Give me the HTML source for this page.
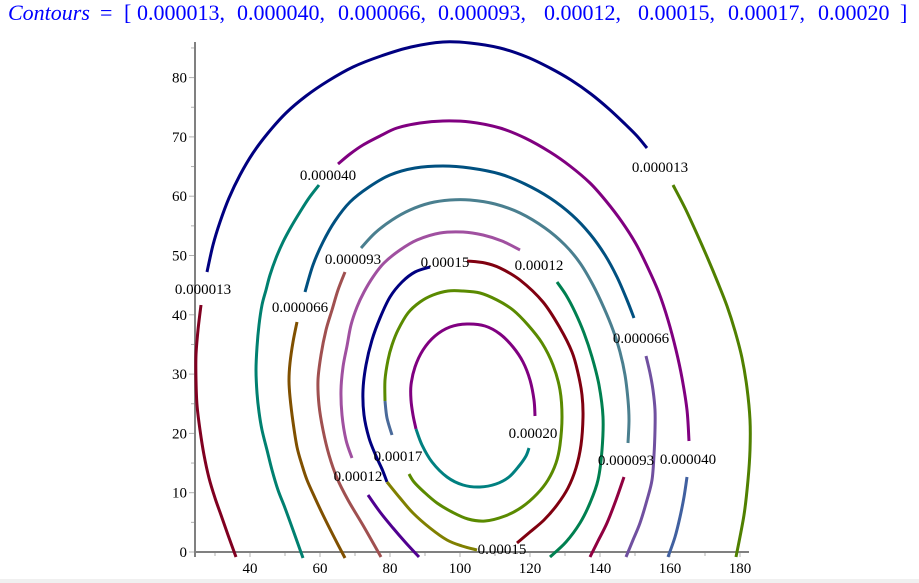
<!DOCTYPE html>
<html><head><meta charset="utf-8"><style>
html,body{margin:0;padding:0;background:#fff;}
svg{display:block;}
polyline,path.c{fill:none;stroke-width:3;stroke-linejoin:round;}
</style></head><body>
<svg id="s" width="919" height="583" viewBox="0 0 919 583" xmlns="http://www.w3.org/2000/svg">
<rect x="0" y="0" width="919" height="583" fill="#fff"/>
<rect x="0" y="579" width="919" height="4" fill="#f0f0f0"/>
<!-- title -->
<g font-family="'Liberation Serif','Times New Roman',serif" font-size="22" fill="#0000ff">
<text x="8" y="20" font-style="italic">Contours</text>
<text x="100" y="20">=</text>
<text x="124" y="20">[</text>
<text x="137" y="20">0.000013,</text>
<text x="237" y="20">0.000040,</text>
<text x="338" y="20">0.000066,</text>
<text x="438" y="20">0.000093,</text>
<text x="544" y="20">0.00012,</text>
<text x="638" y="20">0.00015,</text>
<text x="728" y="20">0.00017,</text>
<text x="818" y="20">0.00020</text>
<text x="900" y="20">]</text>
</g>

<!-- ticks -->
<g stroke="#b0b0b0" stroke-width="1">
<line x1="189" y1="552" x2="195" y2="552"/><line x1="189" y1="492.7" x2="195" y2="492.7"/><line x1="189" y1="433.4" x2="195" y2="433.4"/><line x1="189" y1="374.1" x2="195" y2="374.1"/><line x1="189" y1="314.8" x2="195" y2="314.8"/><line x1="189" y1="255.5" x2="195" y2="255.5"/><line x1="189" y1="196.2" x2="195" y2="196.2"/><line x1="189" y1="136.9" x2="195" y2="136.9"/><line x1="189" y1="77.6" x2="195" y2="77.6"/>
<line x1="191" y1="522.35" x2="195" y2="522.35"/><line x1="191" y1="463.05" x2="195" y2="463.05"/><line x1="191" y1="403.75" x2="195" y2="403.75"/><line x1="191" y1="344.45" x2="195" y2="344.45"/><line x1="191" y1="285.15" x2="195" y2="285.15"/><line x1="191" y1="225.85" x2="195" y2="225.85"/><line x1="191" y1="166.55" x2="195" y2="166.55"/><line x1="191" y1="107.25" x2="195" y2="107.25"/><line x1="191" y1="47.95" x2="195" y2="47.95"/>
<line x1="215" y1="552" x2="215" y2="556"/><line x1="250" y1="552" x2="250" y2="557"/><line x1="285" y1="552" x2="285" y2="556"/><line x1="320" y1="552" x2="320" y2="557"/><line x1="355" y1="552" x2="355" y2="556"/><line x1="390" y1="552" x2="390" y2="557"/><line x1="425" y1="552" x2="425" y2="556"/><line x1="460" y1="552" x2="460" y2="557"/><line x1="495" y1="552" x2="495" y2="556"/><line x1="530" y1="552" x2="530" y2="557"/><line x1="565" y1="552" x2="565" y2="556"/><line x1="600" y1="552" x2="600" y2="557"/><line x1="635" y1="552" x2="635" y2="556"/><line x1="670" y1="552" x2="670" y2="557"/><line x1="705" y1="552" x2="705" y2="556"/><line x1="740" y1="552" x2="740" y2="557"/>
</g>
<!-- axes -->
<line x1="195" y1="42" x2="195" y2="557" stroke="#808080" stroke-width="2"/>
<line x1="194" y1="552" x2="749" y2="552" stroke="#808080" stroke-width="2"/>
<!-- tick labels -->
<g font-family="'Liberation Serif','Times New Roman',serif" font-size="15" fill="#000" text-anchor="end">
<text x="187" y="557">0</text><text x="187" y="497.7">10</text><text x="187" y="438.4">20</text><text x="187" y="379.1">30</text><text x="187" y="319.8">40</text><text x="187" y="260.5">50</text><text x="187" y="201.2">60</text><text x="187" y="141.9">70</text><text x="187" y="82.6">80</text>
</g>
<g font-family="'Liberation Serif','Times New Roman',serif" font-size="15" fill="#000" text-anchor="middle">
<text x="250" y="573">40</text><text x="320" y="573">60</text><text x="390" y="573">80</text><text x="460" y="573">100</text><text x="530" y="573">120</text><text x="600" y="573">140</text><text x="670" y="573">160</text><text x="740" y="573">180</text>
</g>

<!-- contours -->
<g id="cont">
<polyline stroke="#800020" points="201,305 198,330 196,355 196,380 197,405 200,430 204,455 209,478 215,498 221,515 228,535 236,557"/>
<polyline stroke="#000080" points="207,272 213,245 220,222 229,198 240,175 253,153 268,133 286,113 306,96 328,81 353,67 381,56 411,47 443,42 470,43 500,48 527,57 550,68 571,80 591,94 609,109 625,124 637,136 647,148"/>
<polyline stroke="#508000" points="673,185 685,208 697,234 708,259 718,283 727,306 735,331 742,358 747,388 750,420 750,450 748,480 744,515 736,557"/>

<polyline stroke="#008070" points="319,185 309,198 300,212 291,227 283,242 276,258 270,275 266,290 262,305 259,325 257,347 256,370 257,393 259,412 262,430 267,450 272,470 278,490 285,508 293,530 303,558"/>
<polyline stroke="#800080" points="338,164 350,154 363,145 380,136 397,128 420,123 443,121 470,122 500,128 525,138 550,152 570,166 590,183 606,201 622,222 636,244 648,268 659,293 668,320 676,350 682,378 687,410 689,441"/>
<polyline stroke="#4060a0" points="687,477 684,497 680,517 675,537 668,557"/>

<polyline stroke="#005080" points="305,292 313,265 323,242 335,221 350,202 369,187 390,175 415,168 443,166 470,168 500,174 525,184 550,198 572,215 590,234 605,255 617,277 627,300 634,318"/>
<polyline stroke="#805000" points="297,322 293,342 290,363 289,380 290,397 293,422 297,447 302,465 307,480 315,498 323,515 333,535 345,558"/>
<polyline stroke="#7050a0" points="646,356 650,373 653,390 655,410 655,430 654,455 652,480 647,500 640,523 633,540 626,557"/>

<polyline stroke="#4a7f8f" points="361,248 375,233 392,220 410,210 430,203 450,200 470,200 495,204 520,213 545,228 565,245 580,263 593,285 604,308 613,330 620,352 625,375 628,400 629,420 628,443"/>
<polyline stroke="#a05050" points="345,272 338,290 332,310 326,330 321,355 318,380 319,405 323,430 329,455 337,478 348,500 364,527 381,557"/>
<polyline stroke="#900040" points="624,477 616,500 607,523 598,541 590,557"/>

<polyline stroke="#a050a0" points="352,458 346,440 342,415 341,390 343,367 347,346 351,325 357,307 364,292 373,277 384,263 400,250 417,240 440,233 463,232 483,235 502,241 520,250"/>
<polyline stroke="#500090" points="368,495 380,512 393,528 406,543 419,557"/>
<polyline stroke="#008050" points="557,282 566,295 575,312 584,333 592,357 599,385 603,417 602,450 598,480 590,503 580,523 566,542 550,557"/>

<polyline stroke="#000080" points="430,267 415,272 402,282 390,297 380,318 372,340 366,365 363,390 364,415 369,438 376,456 382,469 387,482"/>
<polyline stroke="#808000" points="387,482 400,498 413,513 430,528 447,540 462,546 477,550"/>
<polyline stroke="#800010" points="467,261 485,263 500,268 520,280 543,302 560,328 572,352 578,373 582,395 583,417 581,445 576,468 568,488 557,505 544,520 530,532 517,543"/>

<polyline stroke="#5a8a00" points="385,401 385,380 388,360 392,345 398,330 408,313 420,302 433,295 448,291 463,291 480,293 497,300 513,310 528,325 542,343 553,365 560,390 562,417 560,445 556,463 548,480 537,494 522,507 505,516 485,521 468,519 452,512 437,503 424,492 414,482 409,474"/>
<polyline stroke="#4a6a9a" points="385,401 387,418 392,435"/>

<polyline stroke="#800080" points="535,416 534,400 530,380 523,362 513,347 500,334 485,326 467,324 450,327 435,336 423,350 415,367 411,385 411,400 413,415 416,429"/>
<polyline stroke="#008080" points="416,429 422,445 432,462 447,477 463,485 480,487 496,484 509,477 519,466 526,456 529,448"/>
</g>

<!-- contour labels -->
<g font-family="'Liberation Serif','Times New Roman',serif" font-size="15" fill="#000" text-anchor="middle">
<text x="660" y="172">0.000013</text>
<text x="203" y="294">0.000013</text>
<text x="328" y="180">0.000040</text>
<text x="688" y="464">0.000040</text>
<text x="300" y="312">0.000066</text>
<text x="641" y="343">0.000066</text>
<text x="353" y="264">0.000093</text>
<text x="626" y="465">0.000093</text>
<text x="539" y="270">0.00012</text>
<text x="358" y="481">0.00012</text>
<text x="445" y="267">0.00015</text>
<text x="502" y="554">0.00015</text>
<text x="398" y="461">0.00017</text>
<text x="533" y="438">0.00020</text>
</g>
</svg>
<script>
(function(){
  var NS="http://www.w3.org/2000/svg";
  var pls=document.querySelectorAll('#cont polyline');
  for(var k=0;k<pls.length;k++){
    var pl=pls[k];
    var raw=pl.getAttribute('points').trim().split(/\s+/);
    var p=raw.map(function(s){var a=s.split(',');return [parseFloat(a[0]),parseFloat(a[1])];});
    if(p.length<3) continue;
    var d="M"+p[0][0]+","+p[0][1];
    for(var i=0;i<p.length-1;i++){
      var p0=p[i>0?i-1:0],p1=p[i],p2=p[i+1],p3=p[i+2<p.length?i+2:p.length-1];
      var c1x=p1[0]+(p2[0]-p0[0])/6,c1y=p1[1]+(p2[1]-p0[1])/6;
      var c2x=p2[0]-(p3[0]-p1[0])/6,c2y=p2[1]-(p3[1]-p1[1])/6;
      d+=" C"+c1x.toFixed(2)+","+c1y.toFixed(2)+" "+c2x.toFixed(2)+","+c2y.toFixed(2)+" "+p2[0]+","+p2[1];
    }
    var path=document.createElementNS(NS,'path');
    path.setAttribute('d',d);
    path.setAttribute('class','c');
    path.setAttribute('stroke',pl.getAttribute('stroke'));
    path.setAttribute('fill','none');
    path.setAttribute('stroke-width','3');
    pl.parentNode.replaceChild(path,pl);
  }
})();
</script>
</body></html>
